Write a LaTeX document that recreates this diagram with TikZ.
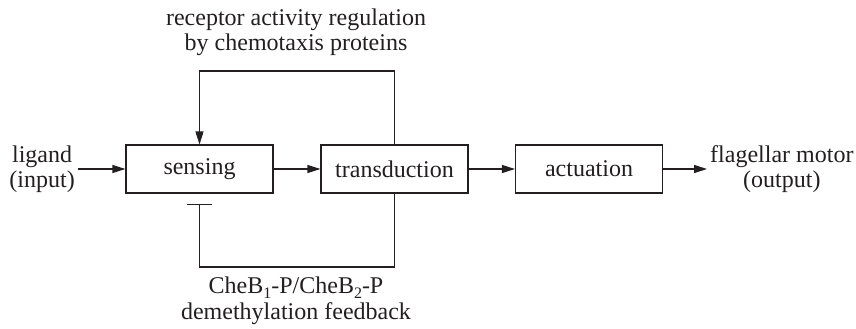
\documentclass[tikz,border=0pt]{standalone}
\usepackage{fontspec}
\setmainfont{Liberation Serif}
\usetikzlibrary{arrows.meta}
\definecolor{ink}{RGB}{35,31,32}
\newcommand{\sbs}[1]{\raisebox{-0.2em}{\fontsize{16}{16}\selectfont #1}}
\begin{document}
\begin{tikzpicture}[x=1pt,y=-1pt,
  every node/.style={font=\fontsize{24}{25}\selectfont, text=ink},
  blk/.style={draw=ink, line width=1.1pt, minimum width=147pt, minimum height=48pt, inner sep=0pt},
  lbl/.style={align=center, inner sep=3pt},
  conn/.style={draw=ink, line width=1.1pt},
  arr/.style={conn, -{Triangle[length=13pt,width=8pt]}},
  inh/.style={conn, -{Bar[width=25pt]}, shorten >=10pt}
]
\useasboundingbox (0,0) rectangle (856,329);
\node[blk] (sensing) at (199.5,169) {sensing};
\node[blk] (transduction) at (394.5,169) {transduction};
\node[blk] (actuation) at (589,169) {actuation};
\node[lbl, anchor=east] (input) at (78,169.5) {ligand\\(input)};
\node[lbl, anchor=west] (output) at (707,169.5) {flagellar motor\\(output)};
\node[lbl] (toplbl) at (296,32.5) {receptor activity regulation\\by chemotaxis proteins};
\node[lbl, font=\fontsize{24}{26}\selectfont] (botlbl) at (296,301) {CheB\sbs{1}-P/CheB\sbs{2}-P\\demethylation feedback};
\coordinate (ytop) at (0,71);
\coordinate (ybot) at (0,267);
\draw[arr] (input.east |- sensing) -- (sensing);
\draw[arr] (sensing) -- (transduction);
\draw[arr] (transduction) -- (actuation);
\draw[arr] (actuation) -- (output.west |- actuation);
\draw[arr] (transduction.north) -- (transduction.north |- ytop) -| (sensing.north);
\draw[inh] (transduction.south) -- (transduction.south |- ybot) -| (sensing.south);
\end{tikzpicture}
\end{document}
